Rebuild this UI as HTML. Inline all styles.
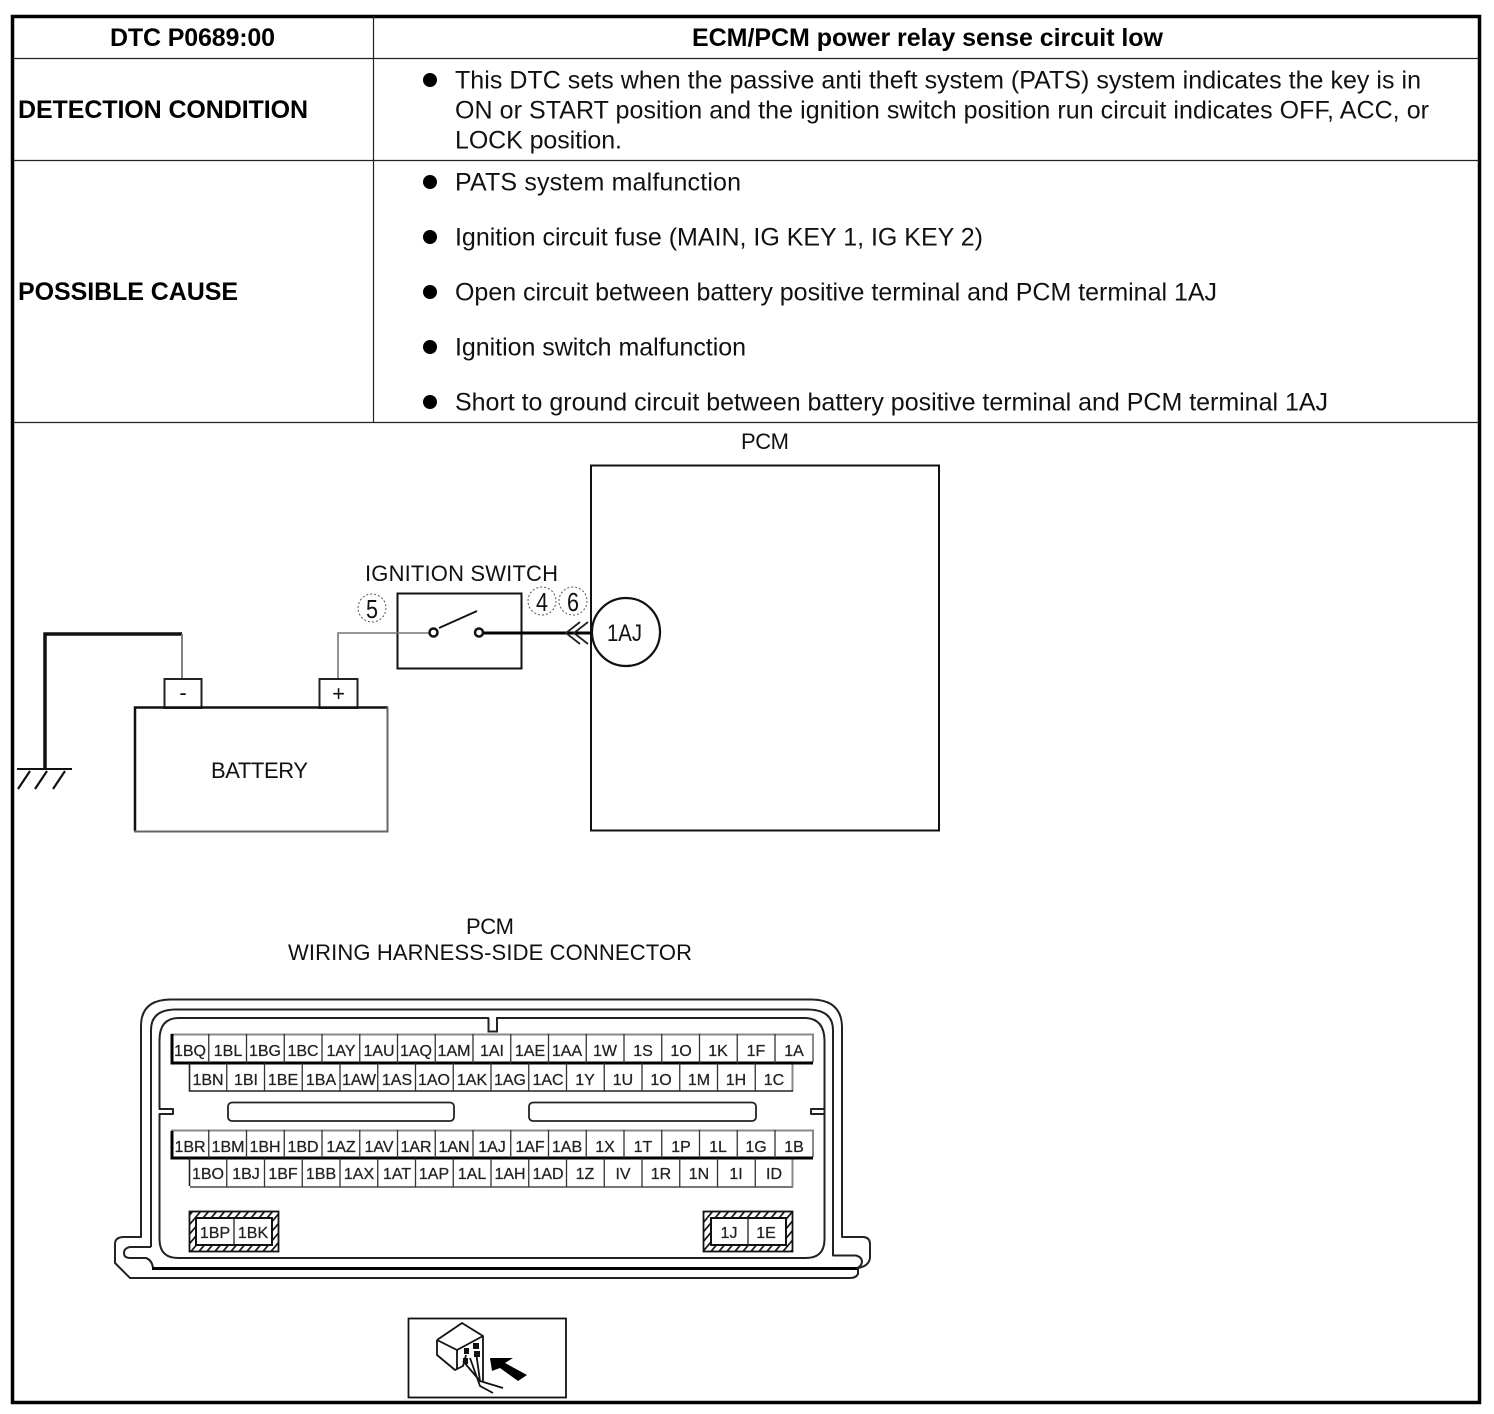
<!DOCTYPE html>
<html>
<head>
<meta charset="utf-8">
<title>DTC P0689:00</title>
<style>
html,body{margin:0;padding:0;background:#fff}
svg{display:block}
text{font-family:"Liberation Sans",sans-serif;fill:#111}
.t{font-size:25px}
.b{font-size:25px;font-weight:bold;fill:#000}
.d{font-size:22px}
.c{font-size:16px;text-anchor:middle;fill:#222;stroke:#222;stroke-width:.25px}
</style>
</head>
<body>
<svg width="1494" height="1414" viewBox="0 0 1494 1414" xmlns="http://www.w3.org/2000/svg">
<defs>
<pattern id="h" width="8" height="8" patternUnits="userSpaceOnUse" patternTransform="skewX(-40)">
<rect width="8" height="8" fill="#fff"/><rect width="2.200" height="8" fill="#111"/>
</pattern>
</defs>
<rect width="1494" height="1414" fill="#fff"/>

<!-- table -->
<rect x="12.500" y="16.500" width="1467" height="1386" fill="none" stroke="#000" stroke-width="3.500"/>
<path d="M13 58.500H1479M13 160.500H1479M13 422.500H1479M373.500 16V422" fill="none" stroke="#222" stroke-width="1.200"/>

<text class="b" x="110" y="46" textLength="165" lengthAdjust="spacing">DTC P0689:00</text>
<text class="b" x="692" y="46" textLength="471" lengthAdjust="spacing">ECM/PCM power relay sense circuit low</text>
<text class="b" x="18" y="118" textLength="290" lengthAdjust="spacing">DETECTION CONDITION</text>
<text class="b" x="18" y="300" textLength="220" lengthAdjust="spacing">POSSIBLE CAUSE</text>

<g fill="#000">
<circle cx="430" cy="80" r="7"/><circle cx="430" cy="182" r="7"/><circle cx="430" cy="237" r="7"/><circle cx="430" cy="292" r="7"/><circle cx="430" cy="347" r="7"/><circle cx="430" cy="402" r="7"/>
</g>
<text class="t" x="455" y="88.500" textLength="966" lengthAdjust="spacing">This DTC sets when the passive anti theft system (PATS) system indicates the key is in</text>
<text class="t" x="455" y="118.500" textLength="974" lengthAdjust="spacing">ON or START position and the ignition switch position run circuit indicates OFF, ACC, or</text>
<text class="t" x="455" y="148.500" textLength="167" lengthAdjust="spacing">LOCK position.</text>
<text class="t" x="455" y="190.500" textLength="286" lengthAdjust="spacing">PATS system malfunction</text>
<text class="t" x="455" y="245.500" textLength="528" lengthAdjust="spacing">Ignition circuit fuse (MAIN, IG KEY 1, IG KEY 2)</text>
<text class="t" x="455" y="300.500" textLength="762" lengthAdjust="spacing">Open circuit between battery positive terminal and PCM terminal 1AJ</text>
<text class="t" x="455" y="355.500" textLength="291" lengthAdjust="spacing">Ignition switch malfunction</text>
<text class="t" x="455" y="410.500" textLength="873" lengthAdjust="spacing">Short to ground circuit between battery positive terminal and PCM terminal 1AJ</text>

<!-- schematic -->
<text class="d" x="741" y="449" textLength="48" lengthAdjust="spacing">PCM</text>
<rect x="591" y="465.500" width="348" height="365" fill="none" stroke="#111" stroke-width="2"/>
<text class="d" x="365" y="581" textLength="193" lengthAdjust="spacing">IGNITION SWITCH</text>
<rect x="397.500" y="593.500" width="124" height="75" fill="none" stroke="#111" stroke-width="2"/>
<path d="M338 679V633H429" fill="none" stroke="#777" stroke-width="1.600"/>
<path d="M483 633H591" fill="none" stroke="#000" stroke-width="3"/>
<circle cx="433.500" cy="632.500" r="4" fill="#fff" stroke="#111" stroke-width="2.500"/>
<circle cx="479" cy="632.500" r="4" fill="#fff" stroke="#111" stroke-width="2.500"/>
<path d="M439 628L477 611" stroke="#111" stroke-width="1.800" fill="none"/>
<path d="M580 622L566 633L580 644M588 622L574 633L588 644" fill="none" stroke="#222" stroke-width="1.800"/>
<circle cx="626" cy="632" r="34" fill="#fff" stroke="#111" stroke-width="2.200"/>
<text x="607" y="641" font-size="24" textLength="35" lengthAdjust="spacingAndGlyphs">1AJ</text>

<g fill="none" stroke="#555" stroke-width="1" stroke-dasharray="2 2">
<ellipse cx="372" cy="608" rx="14" ry="14"/><ellipse cx="542" cy="601" rx="14" ry="14"/><ellipse cx="573" cy="601" rx="14" ry="14"/>
</g>
<text x="366" y="618" font-size="26" textLength="12" lengthAdjust="spacingAndGlyphs">5</text>
<text x="536" y="611" font-size="26" textLength="12" lengthAdjust="spacingAndGlyphs">4</text>
<text x="567" y="611" font-size="26" textLength="12" lengthAdjust="spacingAndGlyphs">6</text>

<path d="M45 769V634H182" fill="none" stroke="#111" stroke-width="3.500"/>
<path d="M182 634V679" fill="none" stroke="#777" stroke-width="1.800"/>
<path d="M17 769H72" fill="none" stroke="#111" stroke-width="2"/>
<path d="M30 771L18 789M47 771L35 789M65 771L53 789" fill="none" stroke="#111" stroke-width="2.200"/>

<rect x="164.500" y="679" width="37" height="29" fill="#fff" stroke="#222" stroke-width="2"/>
<rect x="319.500" y="679" width="38" height="29" fill="#fff" stroke="#222" stroke-width="2"/>
<text class="d" x="183" y="700" text-anchor="middle">-</text>
<text class="d" x="338.500" y="701" text-anchor="middle">+</text>
<path d="M135 831V707.500H388" fill="none" stroke="#111" stroke-width="2.500"/>
<path d="M387.500 707V831.500H134" fill="none" stroke="#666" stroke-width="2"/>
<text class="d" x="211" y="778" textLength="97" lengthAdjust="spacing">BATTERY</text>

<text class="d" x="466" y="934" textLength="48" lengthAdjust="spacing">PCM</text>
<text class="d" x="288" y="960" textLength="404" lengthAdjust="spacing">WIRING HARNESS-SIDE CONNECTOR</text>

<!-- connector housing -->
<g fill="none" stroke="#222" stroke-linejoin="round">
<path stroke-width="2" d="M141 1237V1026Q141 1000 170 999.500H812Q841 1000 842 1026V1237H864Q870 1238 870 1244V1258Q869 1266 858 1268V1274Q856 1278 850 1278H130L115 1263V1244Q115 1237 124 1237Z"/>
<path stroke-width="2" d="M151 1247V1030Q151 1010 175 1009.500H808Q833 1010 833 1030V1255.500H856Q862 1257 862 1262Q861 1267 857 1268"/>
<path stroke-width="2" d="M151 1247H130Q124 1248 124 1253Q124 1258 130 1258H146Q152 1260 153 1268"/>
<path stroke-width="2" d="M159.500 1109V1040Q159.500 1018.500 178 1018H806Q824 1019 824.500 1040V1240Q824 1258 806 1258H178Q160 1258 159.500 1240V1114H173V1109Z"/>
<path stroke-width="2" d="M824 1109H811V1114H824"/>
<rect x="228" y="1102.500" width="226" height="18.500" rx="4" stroke-width="1.800"/>
<rect x="529" y="1102.500" width="227" height="18.500" rx="4" stroke-width="1.800"/>
</g>
<rect x="489" y="1016" width="7" height="4" fill="#fff"/>
<path d="M488.500 1018V1031.500H497V1018" fill="none" stroke="#222" stroke-width="2"/>
<path d="M152 1268.500H857" stroke="#000" stroke-width="3"/>

<!-- row backgrounds -->
<g fill="#fff" stroke="none">
<rect x="172" y="1035" width="640" height="28"/><rect x="190" y="1064" width="603" height="27"/>
<rect x="172" y="1131" width="640" height="27"/><rect x="190" y="1159" width="603" height="28"/>
</g>
<g fill="none" stroke="#888" stroke-width="2">
<path d="M171 1034.500H813V1062M171 1130.500H813V1157"/>
<path d="M792.500 1064V1091M792.500 1159V1187"/>
<path d="M190 1187H793" stroke="#777"/>
</g>
<path d="M172 1034V1063H813M172 1131V1158H813" fill="none" stroke="#000" stroke-width="3"/>
<path d="M189.500 1063V1091H793M189.500 1158V1186" fill="none" stroke="#222" stroke-width="1.600"/>
<g fill="none" stroke="#333" stroke-width="1.300">
<path d="M208.750 1034v29m37.750-29v29m37.750-29v29m37.750-29v29m37.750-29v29m37.750-29v29m37.750-29v29m37.750-29v29m37.750-29v29m37.750-29v29m37.750-29v29m37.750-29v29m37.750-29v29m37.750-29v29m37.750-29v29m37.750-29v29"/>
<path d="M226.750 1063v28m37.750-28v28m37.750-28v28m37.750-28v28m37.750-28v28m37.750-28v28m37.750-28v28m37.750-28v28m37.750-28v28m37.750-28v28m37.750-28v28m37.750-28v28m37.750-28v28m37.750-28v28m37.750-28v28"/>
<path d="M208.750 1130v28m37.750-28v28m37.750-28v28m37.750-28v28m37.750-28v28m37.750-28v28m37.750-28v28m37.750-28v28m37.750-28v28m37.750-28v28m37.750-28v28m37.750-28v28m37.750-28v28m37.750-28v28m37.750-28v28m37.750-28v28"/>
<path d="M226.750 1158v29m37.750-29v29m37.750-29v29m37.750-29v29m37.750-29v29m37.750-29v29m37.750-29v29m37.750-29v29m37.750-29v29m37.750-29v29m37.750-29v29m37.750-29v29m37.750-29v29m37.750-29v29m37.750-29v29"/>
</g>

<g>
<text class="c" x="190" y="1056">1BQ</text><text class="c" x="228" y="1056">1BL</text><text class="c" x="265" y="1056">1BG</text><text class="c" x="303" y="1056">1BC</text><text class="c" x="341" y="1056">1AY</text><text class="c" x="379" y="1056">1AU</text><text class="c" x="416" y="1056">1AQ</text><text class="c" x="454" y="1056">1AM</text><text class="c" x="492" y="1056">1AI</text><text class="c" x="530" y="1056">1AE</text><text class="c" x="567" y="1056">1AA</text><text class="c" x="605" y="1056">1W</text><text class="c" x="643" y="1056">1S</text><text class="c" x="681" y="1056">1O</text><text class="c" x="718" y="1056">1K</text><text class="c" x="756" y="1056">1F</text><text class="c" x="794" y="1056">1A</text>
</g>
<g>
<text class="c" x="208" y="1085">1BN</text><text class="c" x="246" y="1085">1BI</text><text class="c" x="283" y="1085">1BE</text><text class="c" x="321" y="1085">1BA</text><text class="c" x="359" y="1085">1AW</text><text class="c" x="397" y="1085">1AS</text><text class="c" x="434" y="1085">1AO</text><text class="c" x="472" y="1085">1AK</text><text class="c" x="510" y="1085">1AG</text><text class="c" x="548" y="1085">1AC</text><text class="c" x="585" y="1085">1Y</text><text class="c" x="623" y="1085">1U</text><text class="c" x="661" y="1085">1O</text><text class="c" x="699" y="1085">1M</text><text class="c" x="736" y="1085">1H</text><text class="c" x="774" y="1085">1C</text>
</g>
<g>
<text class="c" x="190" y="1152">1BR</text><text class="c" x="228" y="1152">1BM</text><text class="c" x="265" y="1152">1BH</text><text class="c" x="303" y="1152">1BD</text><text class="c" x="341" y="1152">1AZ</text><text class="c" x="379" y="1152">1AV</text><text class="c" x="416" y="1152">1AR</text><text class="c" x="454" y="1152">1AN</text><text class="c" x="492" y="1152">1AJ</text><text class="c" x="530" y="1152">1AF</text><text class="c" x="567" y="1152">1AB</text><text class="c" x="605" y="1152">1X</text><text class="c" x="643" y="1152">1T</text><text class="c" x="681" y="1152">1P</text><text class="c" x="718" y="1152">1L</text><text class="c" x="756" y="1152">1G</text><text class="c" x="794" y="1152">1B</text>
</g>
<g>
<text class="c" x="208" y="1179">1BO</text><text class="c" x="246" y="1179">1BJ</text><text class="c" x="283" y="1179">1BF</text><text class="c" x="321" y="1179">1BB</text><text class="c" x="359" y="1179">1AX</text><text class="c" x="397" y="1179">1AT</text><text class="c" x="434" y="1179">1AP</text><text class="c" x="472" y="1179">1AL</text><text class="c" x="510" y="1179">1AH</text><text class="c" x="548" y="1179">1AD</text><text class="c" x="585" y="1179">1Z</text><text class="c" x="623" y="1179">IV</text><text class="c" x="661" y="1179">1R</text><text class="c" x="699" y="1179">1N</text><text class="c" x="736" y="1179">1I</text><text class="c" x="774" y="1179">ID</text>
</g>

<!-- hatched connectors -->
<rect x="189.500" y="1211.500" width="89" height="40" fill="url(#h)" stroke="#111" stroke-width="1.800"/>
<rect x="196" y="1218" width="76" height="27" fill="#fff" stroke="#111" stroke-width="2"/>
<path d="M234 1218V1245" stroke="#222" stroke-width="1.300"/>
<text class="c" x="215" y="1238">1BP</text><text class="c" x="253" y="1238">1BK</text>
<rect x="703.500" y="1211.500" width="89" height="40" fill="url(#h)" stroke="#111" stroke-width="1.800"/>
<rect x="711" y="1218" width="75" height="27" fill="#fff" stroke="#111" stroke-width="2"/>
<path d="M748 1218V1245" stroke="#222" stroke-width="1.300"/>
<text class="c" x="729" y="1238">1J</text><text class="c" x="766" y="1238">1E</text>

<!-- icon -->
<rect x="408.500" y="1318.500" width="157.500" height="79" fill="#fff" stroke="#111" stroke-width="1.800"/>
<g fill="none" stroke="#111" stroke-width="1.800" stroke-linejoin="round">
<path d="M437 1340L462 1323L483 1336V1381M437 1340V1355L455 1370L463 1366L466 1355M437 1340L457 1350L483 1336M457 1350V1369"/>
<path d="M463 1361L480 1381L503 1388M470 1358L480 1386L493 1393M476 1352L480 1381"/>
</g>
<g fill="#111">
<rect x="464" y="1348" width="5" height="6"/><rect x="473" y="1343" width="6" height="6"/><rect x="463" y="1358" width="5" height="6"/><rect x="474" y="1351" width="6" height="6"/>
</g>
<path d="M490 1358L513 1358L505 1363L527 1375L518 1381L500 1368L492 1371Z" fill="#000"/>
</svg>
</body>
</html>
